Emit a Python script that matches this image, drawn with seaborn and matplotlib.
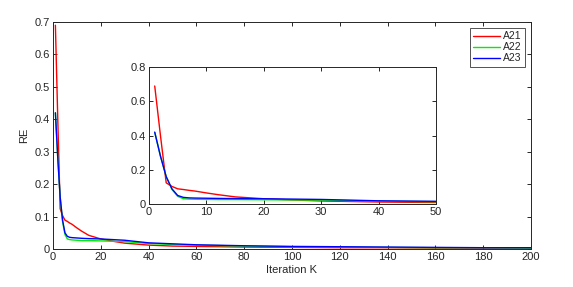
import matplotlib
matplotlib.use("Agg")
import matplotlib.pyplot as plt
import seaborn as sns
import pandas as pd

# ---- data ----
K = [1, 2, 3, 4, 5, 6, 7, 8, 10, 12, 15, 20, 25, 30, 40, 50, 60, 80, 100, 120, 140, 160, 180, 200]
A21 = [0.69, 0.40, 0.124, 0.103, 0.089, 0.085, 0.080, 0.076, 0.065, 0.055, 0.042, 0.031, 0.024, 0.018, 0.012, 0.009, 0.008, 0.006, 0.005, 0.004, 0.004, 0.003, 0.003, 0.003]
A22 = [0.42, 0.28, 0.16, 0.085, 0.045, 0.031, 0.029, 0.028, 0.027, 0.026, 0.026, 0.025, 0.024, 0.023, 0.017, 0.014, 0.012, 0.009, 0.007, 0.006, 0.005, 0.004, 0.004, 0.003]
A23 = [0.42, 0.28, 0.16, 0.089, 0.050, 0.039, 0.036, 0.035, 0.034, 0.033, 0.032, 0.031, 0.029, 0.027, 0.019, 0.016, 0.013, 0.010, 0.008, 0.007, 0.006, 0.005, 0.004, 0.004]
series_names = ["A21", "A22", "A23"]
colors = ["#ff0000", "#00ee00", "#0000ff"]

rows = []
for name, vals in zip(series_names, [A21, A22, A23]):
    for k, v in zip(K, vals):
        rows.append({"K": k, "RE": v, "series": name})
df = pd.DataFrame(rows)

sns.set_style("white")
plt.rcParams["font.family"] = ["Liberation Sans", "DejaVu Sans"]
plt.rcParams["font.size"] = 8

fig = plt.figure(figsize=(5.73, 2.87), dpi=100)
ax = fig.add_axes([0.0925, 0.1324, 0.834, 0.791])
pal = dict(zip(series_names, colors))
sns.lineplot(data=df, x="K", y="RE", hue="series", palette=pal, linewidth=1.0, ax=ax)

ax.set_xlim(0, 200)
ax.set_ylim(0, 0.7)
ax.set_xticks(range(0, 201, 20))
ax.set_yticks([0, 0.1, 0.2, 0.3, 0.4, 0.5, 0.6, 0.7])
ax.set_yticklabels(["0", "0.1", "0.2", "0.3", "0.4", "0.5", "0.6", "0.7"])
ax.set_xlabel("Iteration K", fontsize=8, labelpad=2)
ax.set_ylabel("RE", fontsize=8, labelpad=4)

def style(a):
    for s in a.spines.values():
        s.set_color("#262626")
        s.set_linewidth(0.7)
        s.set_visible(True)
    a.tick_params(direction="in", length=3, width=0.7, top=True, right=True,
                  labelsize=8, colors="#262626", pad=2,
                  bottom=True, left=True)

style(ax)
leg = ax.legend(loc="upper right", fontsize=7.5, frameon=True, fancybox=False,
                edgecolor="#262626", borderpad=0.3, handlelength=2.6,
                labelspacing=0.1, handletextpad=0.3, borderaxespad=0.6)
leg.get_frame().set_linewidth(0.7)
for h in leg.get_lines():
    h.set_linewidth(1.0)

ins = fig.add_axes([0.26, 0.289, 0.501, 0.477])
dfi = df[df["K"] <= 50]
sns.lineplot(data=dfi, x="K", y="RE", hue="series", palette=pal, linewidth=1.0, ax=ins, legend=False)
ins.set_xlim(0, 50)
ins.set_ylim(0, 0.8)
ins.set_xticks([0, 10, 20, 30, 40, 50])
ins.set_yticks([0, 0.2, 0.4, 0.6, 0.8])
ins.set_yticklabels(["0", "0.2", "0.4", "0.6", "0.8"])
ins.set_xlabel("")
ins.set_ylabel("")
style(ins)

fig.savefig("out.png", dpi=100)
